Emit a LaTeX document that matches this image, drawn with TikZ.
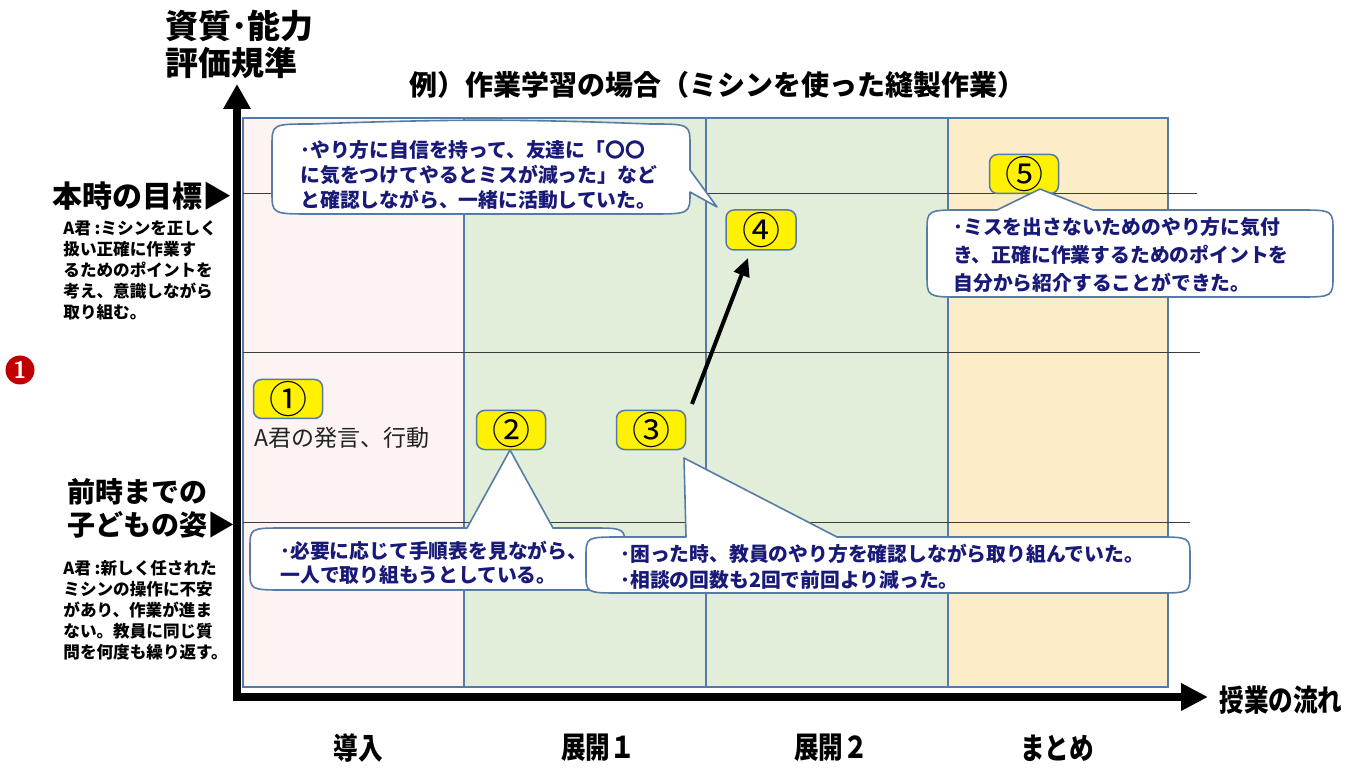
\documentclass[tikz,border=0pt]{standalone}
\usepackage{fontspec}
\newfontfamily\jp{Noto Sans CJK JP}
\newfontfamily\jpn{Noto Sans CJK JP}[FakeStretch=0.82]
\usetikzlibrary{arrows.meta}
\definecolor{pinkbg}{RGB}{253,243,243}
\definecolor{greenbg}{RGB}{226,237,218}
\definecolor{orangebg}{RGB}{253,236,200}
\definecolor{panelline}{RGB}{84,122,168}
\definecolor{navytext}{RGB}{25,25,120}
\definecolor{calloutline}{RGB}{86,124,166}
\definecolor{darkred}{RGB}{192,0,0}
\definecolor{gridline}{RGB}{60,60,60}
\tikzset{
  panel/.style={draw=panelline, line width=0.75pt},
  levelline/.style={draw=gridline, line width=0.5pt},
  numbox/.style={draw=panelline, fill=yellow, rounded corners=4pt, line width=0.75pt,
    minimum width=34.5pt, minimum height=19.5pt, inner sep=0pt,
    font={\jp\fontsize{19}{19}\selectfont}},
  callout/.style={draw=calloutline, fill=white, line width=0.8pt, line join=round},
  ctext/.style={anchor=west, align=left, inner sep=0pt, text=navytext},
  smalltext/.style={anchor=west, align=left, inner sep=0pt,
    font={\jp\bfseries\fontsize{8.3}{10.5}\selectfont}},
  collabel/.style={inner sep=0pt, font={\jpn\bfseries\fontsize{15}{15}\selectfont}},
}
\begin{document}
\begin{tikzpicture}[x=0.5pt,y=-0.5pt]
\useasboundingbox (0,0) rectangle (1363,769);
% panels
\fill[pinkbg] (243,118) rectangle (464,687);
\fill[greenbg] (464,118) rectangle (948,687);
\fill[orangebg] (948,118) rectangle (1168,687);
\draw[panel] (243,118) rectangle (1168,687);
\draw[panel] (464,118) -- (464,687);
\draw[panel] (706,118) -- (706,687);
\draw[panel] (948,118) -- (948,687);
% level lines
\draw[levelline] (243,194) -- (1197,194);
\draw[levelline] (243,353) -- (1200,353);
\draw[levelline] (243,522) -- (1190,522);
% axes
\coordinate (ytop) at (237,84);
\coordinate (origin) at (237,697);
\coordinate (xend) at (1208,697);
\draw[line width=4pt, line join=miter,
  {Triangle[length=12.5pt,width=13pt]}-{Triangle[length=13.5pt,width=13pt]}]
  (ytop) -- (origin) -- (xend);
% axis titles
\node[anchor=west, align=left, inner sep=0pt, font={\jp\bfseries\fontsize{16.5}{18.5}\selectfont}] (ytitle) at (165,44) {資質･能力\\評価規準};
\node[inner sep=0pt, font={\jp\bfseries\fontsize{14}{14}\selectfont}] (title) at (717,85) {例）作業学習の場合（ミシンを使った縫製作業）};
\node[anchor=west, inner sep=0pt, font={\jpn\bfseries\fontsize{15}{15}\selectfont}] (xtitle) at (1219,700) {授業の流れ};
% left labels
\node[anchor=east, inner sep=0pt, font={\jp\bfseries\fontsize{15}{15}\selectfont}] (goal) at (233,196) {本時の目標▶};
\node[smalltext] (goaltext) at (63,270) {A君 :ミシンを正しく\\扱い正確に作業す\\るためのポイントを\\考え、意識しながら\\取り組む。};
\node[anchor=west, align=left, inner sep=0pt, font={\jp\bfseries\fontsize{14}{16.5}\selectfont}] (prev) at (67,508) {前時までの\\子どもの姿▶};
\node[smalltext] (prevtext) at (63,610) {A君 :新しく任された\\ミシンの操作に不安\\があり、作業が進ま\\ない。教員に同じ質\\問を何度も繰り返す。};
\node[circle, fill=darkred, minimum size=14.5pt, inner sep=0pt, text=white,
  font={\sffamily\bfseries\fontsize{12}{12}\selectfont}] (mark1) at (20,370) {1};
% column labels
\node[collabel] (c1) at (358,748) {導入};
\node[collabel] (c2) at (598,748) {展開１};
\node[collabel] (c3) at (831,748) {展開２};
\node[collabel] (c4) at (1057,748) {まとめ};
% number boxes
\node[numbox] (n1) at (288,399) {①};
\node[anchor=west, inner sep=0pt, text={rgb,255:red,34;green,34;blue,34}, font={\jp\fontsize{11.5}{11.5}\selectfont}] (n1text) at (254,438) {A君の発言、行動};
\node[numbox] (n2) at (511,430) {②};
\node[numbox] (n3) at (651,430) {③};
\node[numbox, minimum width=35pt, minimum height=20pt] (n4) at (761,230) {④};
\node[numbox] (n5) at (1024,174) {⑤};
% progress arrow
\coordinate (a3) at (692,404);
\coordinate (a4) at (748,258);
\draw[line width=2pt, -{Triangle[length=9pt,width=8pt]}] (a3) -- (a4);
% callout 1
\draw[callout] (272,146) .. controls (272,124) .. (312,124)
  .. controls (450,119) and (520,119) .. (650,124)
  .. controls (690,124) .. (690,146) -- (690,170) -- (717,207) -- (690,192)
  .. controls (690,214) .. (650,214) -- (312,214) .. controls (272,214) .. (272,192) -- cycle;
\node[ctext, font={\jp\bfseries\fontsize{9.9}{12.3}\selectfont}] (t1) at (300,175)
  {･やり方に自信を持って、友達に「〇〇\\に気をつけてやるとミスが減った」など\\と確認しながら、一緒に活動していた。};
% callout 2
\draw[callout] (250,548) .. controls (250,528) .. (285,528) -- (467,528) -- (510,450) -- (553,528)
  -- (590,528) .. controls (625,528) .. (625,548) -- (625,570) .. controls (625,590) .. (590,590)
  -- (285,590) .. controls (250,590) .. (250,570) -- cycle;
\node[ctext, font={\jp\bfseries\fontsize{9.9}{12}\selectfont}] (t2) at (280,563)
  {･必要に応じて手順表を見ながら、\\一人で取り組もうとしている。};
% callout 3
\draw[callout] (586,557) .. controls (586,537) .. (621,537) -- (686,537) -- (684,458) -- (837,537)
  -- (1155,537) .. controls (1190,537) .. (1190,557) -- (1190,573) .. controls (1190,593) .. (1155,593)
  -- (621,593) .. controls (586,593) .. (586,573) -- cycle;
\node[ctext, font={\jp\bfseries\fontsize{9.9}{13}\selectfont}] (t3) at (620,567)
  {･困った時、教員のやり方を確認しながら取り組んでいた。\\･相談の回数も2回で前回より減った。};
% callout 5
\draw[callout] (927,232) .. controls (927,210) .. (962,210) -- (997,210) -- (1040,189) -- (1093,210)
  -- (1298,210) .. controls (1333,210) .. (1333,232) -- (1333,275) .. controls (1333,297) .. (1298,297)
  -- (962,297) .. controls (927,297) .. (927,275) -- cycle;
\node[ctext, font={\jp\bfseries\fontsize{9.9}{14}\selectfont}] (t5) at (953,255)
  {･ミスを出さないためのやり方に気付\\き、正確に作業するためのポイントを\\自分から紹介することができた。};
\end{tikzpicture}
\end{document}
